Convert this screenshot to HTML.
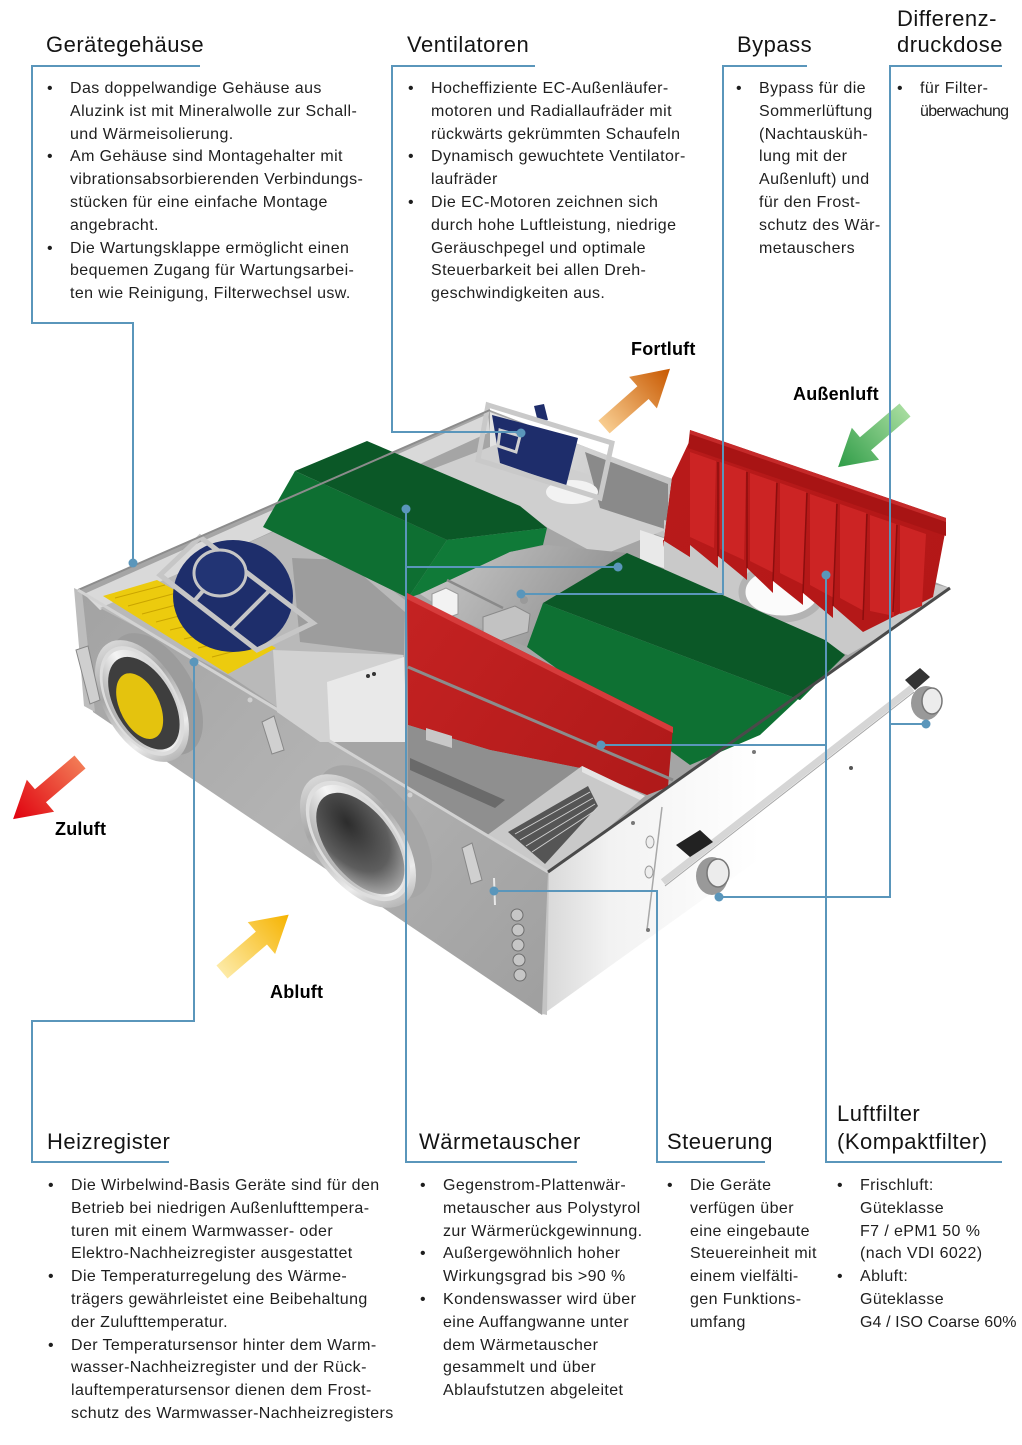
<!DOCTYPE html>
<html><head><meta charset="utf-8">
<style>
html,body{margin:0;padding:0}
body{width:1022px;height:1445px;position:relative;background:#fff;font-family:"Liberation Sans",sans-serif;overflow:hidden}
svg{position:absolute;left:0;top:0}
.h{position:absolute;font-size:22px;line-height:26px;letter-spacing:0.5px;color:#141414;white-space:nowrap}
.b{position:absolute;font-size:16px;line-height:22.8px;letter-spacing:0.4px;color:#1e1e1e;white-space:nowrap}
.b div{position:relative}
.b i{position:absolute;left:-23px;font-style:normal}
.lb{position:absolute;font-weight:bold;font-size:18px;line-height:20px;letter-spacing:0.2px;color:#000;white-space:nowrap}
</style></head>
<body>
<svg width="1022" height="1445" viewBox="0 0 1022 1445">
<defs>
<linearGradient id="gF" x1="80" y1="600" x2="540" y2="1000" gradientUnits="userSpaceOnUse"><stop offset="0" stop-color="#a3a3a3"/><stop offset=".5" stop-color="#b3b3b3"/><stop offset="1" stop-color="#a0a0a0"/></linearGradient>
<linearGradient id="gR" x1="545" y1="0" x2="760" y2="0" gradientUnits="userSpaceOnUse"><stop offset="0" stop-color="#d8d8d8"/><stop offset=".3" stop-color="#f2f2f2"/><stop offset="1" stop-color="#ffffff"/></linearGradient>
<linearGradient id="gW" x1="490" y1="420" x2="690" y2="520" gradientUnits="userSpaceOnUse"><stop offset="0" stop-color="#e4e4e4"/><stop offset="1" stop-color="#bdbdbd"/></linearGradient>
<linearGradient id="gM" x1="450" y1="540" x2="600" y2="640" gradientUnits="userSpaceOnUse"><stop offset="0" stop-color="#c4c4c4"/><stop offset="1" stop-color="#8e8e8e"/></linearGradient>
<linearGradient id="gRing" x1="0" y1="0" x2="1" y2="1"><stop offset="0" stop-color="#f4f4f4"/><stop offset=".4" stop-color="#a6a6a6"/><stop offset=".7" stop-color="#ececec"/><stop offset="1" stop-color="#858585"/></linearGradient>
<linearGradient id="gRing2" x1="1" y1="0" x2="0" y2="1"><stop offset="0" stop-color="#c2c2c2"/><stop offset=".5" stop-color="#f4f4f4"/><stop offset="1" stop-color="#959595"/></linearGradient>
<radialGradient id="gHole" cx=".35" cy=".35" r=".8"><stop offset="0" stop-color="#2c2c2c"/><stop offset=".6" stop-color="#5e5e5e"/><stop offset="1" stop-color="#c4c4c4"/></radialGradient>
<linearGradient id="gRed" x1="408" y1="600" x2="660" y2="780" gradientUnits="userSpaceOnUse"><stop offset="0" stop-color="#c42222"/><stop offset="1" stop-color="#b01a1a"/></linearGradient>
<linearGradient id="gPl" x1="690" y1="440" x2="940" y2="610" gradientUnits="userSpaceOnUse"><stop offset="0" stop-color="#b81a1a"/><stop offset="1" stop-color="#b31717"/></linearGradient>
<linearGradient id="aF" x1="0" y1="0" x2="88" y2="0" gradientUnits="userSpaceOnUse"><stop offset="0" stop-color="#f8cd90"/><stop offset="1" stop-color="#c85800"/></linearGradient>
<linearGradient id="aA" x1="0" y1="0" x2="88" y2="0" gradientUnits="userSpaceOnUse"><stop offset="0" stop-color="#a6dc9e"/><stop offset="1" stop-color="#2e9c47"/></linearGradient>
<linearGradient id="aZ" x1="0" y1="0" x2="88" y2="0" gradientUnits="userSpaceOnUse"><stop offset="0" stop-color="#f27a55"/><stop offset="1" stop-color="#e0000e"/></linearGradient>
<linearGradient id="aB" x1="0" y1="0" x2="88" y2="0" gradientUnits="userSpaceOnUse"><stop offset="0" stop-color="#fdeaa6"/><stop offset="1" stop-color="#f6b300"/></linearGradient>
</defs>

<!-- right face -->
<polygon points="548,872 950,588 950,722 542,1015" fill="url(#gR)"/>
<polygon points="540,870 549,872 547,1015 538,1013" fill="#c4c4c4"/>
<!-- front face -->
<polygon points="80,591 548,872 542,1015 93,712" fill="url(#gF)"/>
<polygon points="74,588 82,592 95,712 84,706" fill="#bdbdbd"/>

<!-- interior base -->
<polygon points="78,590 490,410 950,588 548,872" fill="#a5a5a5"/>
<polygon points="84,594 488,414 490,432 100,610" fill="#d9d9d9"/>
<polygon points="490,412 692,486 692,548 490,472" fill="url(#gW)"/>
<polygon points="430,470 495,445 600,478 665,530 600,556 548,528 520,508" fill="#cfcfcf"/>
<polygon points="585,452 668,484 668,530 600,508" fill="#8a8a8a"/>
<polygon points="640,530 684,545 684,575 640,560" fill="#e9e9e9"/>
<polygon points="540,547 590,560 585,570 540,560" fill="#5a5a5a"/>
<polygon points="664,520 950,588 900,625 848,655 780,630 700,595 664,575" fill="#c9c9c9"/>
<ellipse cx="782" cy="592" rx="40" ry="27" fill="#fbfbfb" stroke="#b3b3b3" stroke-width="7"/>

<!-- Fortluft fan -->
<ellipse cx="572" cy="492" rx="26" ry="12" fill="#f2f2f2"/>
<polygon points="492,415 578,438 566,486 500,463" fill="#1e2d6b"/>
<polygon points="534,406 544,404 548,420 538,422" fill="#1e2d6b"/>
<polygon points="488,405 612,443 600,498 478,460" fill="none" stroke="#c9c9c9" stroke-width="5"/>
<polygon points="500,430 520,436 516,452 498,446" fill="none" stroke="#d0d0d0" stroke-width="3"/>

<!-- pleated filter -->
<polygon points="672,478 690,446 690,545 690,557 663,540 663,547" fill="#9e1212"/>
<polygon points="690,440 946,528 945,533 933,597 863,632 833,606 833,618 803,593 803,605 773,581 773,593 747,568 747,580 718,556 718,568 690,545 690,557 663,540 663,547 672,478" fill="url(#gPl)"/>
<g fill="#cc2424">
<polygon points="690,452 716,461 714,548 690,537"/>
<polygon points="720,462 746,471 744,560 720,549"/>
<polygon points="750,473 776,482 774,573 750,561"/>
<polygon points="780,483 806,492 804,585 780,573"/>
<polygon points="810,494 836,503 834,598 810,585"/>
<polygon points="840,504 866,513 864,611 840,598"/>
<polygon points="870,515 896,524 894,616 870,611"/>
<polygon points="900,525 926,534 922,606 900,614"/>
</g>
<polygon points="690,430 946,518 946,536 688,448" fill="#a81414"/>
<polygon points="690,430 946,518 946,522 690,434" fill="#c52a2a"/>
<g stroke="#8c0e0e" stroke-width="1.5">
<line x1="718" y1="462" x2="718" y2="556"/>
<line x1="747" y1="472" x2="747" y2="568"/>
<line x1="777" y1="483" x2="773" y2="581"/>
<line x1="807" y1="493" x2="803" y2="593"/>
<line x1="837" y1="504" x2="833" y2="606"/>
<line x1="867" y1="514" x2="863" y2="620"/>
<line x1="897" y1="525" x2="893" y2="612"/>
</g>

<!-- left chamber -->
<polygon points="100,608 300,520 405,600 405,740 330,742 230,676" fill="#b9b9b9"/>
<polygon points="292,558 345,560 405,612 404,655 300,642" fill="#9d9d9d"/>
<polygon points="273,650 403,655 407,742 320,742 277,712" fill="#d2d2d2"/>
<polygon points="327,682 404,657 407,742 330,742" fill="#e9e9e9"/>
<circle cx="368" cy="676" r="2" fill="#333"/><circle cx="374" cy="674" r="2" fill="#333"/>
<polygon points="103,596 157,580 276,648 228,674" fill="#eccb0e"/>
<g stroke="#c9a400" stroke-width="1">
<line x1="115" y1="598" x2="165" y2="585"/><line x1="128" y1="606" x2="180" y2="592"/>
<line x1="142" y1="614" x2="195" y2="600"/><line x1="156" y1="622" x2="210" y2="608"/>
<line x1="170" y1="630" x2="225" y2="617"/><line x1="184" y1="639" x2="240" y2="626"/>
<line x1="198" y1="648" x2="254" y2="635"/><line x1="212" y1="657" x2="266" y2="643"/>
</g>
<ellipse cx="233" cy="596" rx="60" ry="56" fill="#1e2e6b"/>
<polygon points="160,575 200,537 313,623 257,650" fill="none" stroke="#c6c6c6" stroke-width="5"/>
<line x1="230" y1="560" x2="195" y2="600" stroke="#c6c6c6" stroke-width="4"/>
<line x1="270" y1="590" x2="232" y2="628" stroke="#c6c6c6" stroke-width="4"/>
<ellipse cx="220" cy="573" rx="26" ry="23" fill="#223474" stroke="#c6c6c6" stroke-width="3"/>

<!-- green left -->
<polygon points="263,527 295,471 447,540 408,598" fill="#0e6f32"/>
<polygon points="295,471 367,441 520,506 547,528 447,540" fill="#0b5827"/>
<polygon points="447,540 547,528 543,545 510,552 420,594 408,598" fill="#107a38"/>

<!-- mechanism -->
<polygon points="510,552 547,545 627,553 543,603 527,647 460,620 420,594" fill="url(#gM)"/>
<polygon points="432,594 446,588 458,594 458,614 444,619 432,612" fill="#f2f2f2" stroke="#999" stroke-width="1"/>
<line x1="447" y1="580" x2="503" y2="608" stroke="#8a8a8a" stroke-width="2.5"/>
<polygon points="483,617 515,606 530,614 528,632 497,642 483,632" fill="#c2c2c2" stroke="#8a8a8a" stroke-width="1"/>
<circle cx="524" cy="600" r="4" fill="#9a9a9a"/>

<!-- green right -->
<polygon points="543,603 627,553 825,640 845,655 800,700" fill="#0b5827"/>
<polygon points="543,603 800,700 845,655 760,735 690,765 527,647" fill="#0e7133"/>

<!-- red slab -->
<polygon points="407,593 673,727 668,787 647,795 580,768 490,750 408,725" fill="url(#gRed)"/>
<polygon points="407,593 673,727 673,733 407,599" fill="#d63b3b"/>
<line x1="408" y1="667" x2="673" y2="780" stroke="#8c8c8c" stroke-width="3"/>

<!-- floor under red slab -->
<polygon points="408,725 490,750 580,768 486,836 408,788" fill="#8f8f8f"/>
<polygon points="410,758 505,800 495,808 410,770" fill="#6a6a6a"/>
<polygon points="426,728 452,736 452,748 426,740" fill="#c8c8c8"/>
<polygon points="486,836 582,766 645,796 600,835 548,872" fill="#c9c9c9"/>
<polygon points="508,832 588,786 598,806 545,864" fill="#555"/>
<g stroke="#cfcfcf" stroke-width="1">
<line x1="515" y1="834" x2="590" y2="792"/><line x1="520" y1="840" x2="593" y2="798"/>
<line x1="526" y1="846" x2="595" y2="804"/><line x1="532" y1="852" x2="596" y2="810"/>
</g>
<polygon points="582,766 645,796 640,800 582,772" fill="#e4e4e4"/>

<!-- rims -->
<line x1="78" y1="590" x2="490" y2="410" stroke="#8c8c8c" stroke-width="2"/>
<line x1="78" y1="590" x2="548" y2="872" stroke="#d2d2d2" stroke-width="3"/>
<line x1="548" y1="872" x2="950" y2="588" stroke="#4a4a4a" stroke-width="3"/>

<!-- Zuluft duct -->
<g transform="matrix(47,28.2,0,54,156,694)"><circle r="1" fill="#9c9c9c"/></g>
<g transform="matrix(47,28.2,0,54,142,701)">
<circle r="1" fill="url(#gRing)"/>
<circle r="0.9" fill="#dcdcdc"/>
<circle r="0.84" fill="url(#gRing2)"/>
<circle cx="0.04" cy="0.02" r="0.76" fill="#3e3e3e"/>
<ellipse cx="-0.05" cy="0.12" rx="0.5" ry="0.55" fill="#e4c30e"/>
</g>
<!-- Abluft duct -->
<g transform="matrix(58,34.8,0,57,374,832)"><circle r="1" fill="#a6a6a6"/></g>
<g transform="matrix(58,34.8,0,57,358,841)">
<circle r="1" fill="url(#gRing)"/>
<circle r="0.9" fill="#dedede"/>
<circle r="0.84" fill="url(#gRing2)"/>
<circle cx="0.04" cy="0.02" r="0.76" fill="url(#gHole)"/>
</g>

<!-- front face details -->
<polygon points="76,650 88,646 100,700 90,704" fill="#cfcfcf" stroke="#888" stroke-width="1"/>
<polygon points="262,722 274,716 284,750 272,754" fill="#d0d0d0" stroke="#888" stroke-width="1"/>
<polygon points="462,848 472,843 482,880 471,884" fill="#d0d0d0" stroke="#888" stroke-width="1"/>
<line x1="494" y1="878" x2="495" y2="905" stroke="#e8e8e8" stroke-width="2"/>
<g fill="#c6c6c6" stroke="#6e6e6e" stroke-width="1">
<circle cx="517" cy="915" r="6"/><circle cx="518" cy="930" r="6"/><circle cx="518" cy="945" r="6"/><circle cx="519" cy="960" r="6"/><circle cx="520" cy="975" r="6"/>
</g>
<circle cx="250" cy="700" r="2.5" fill="#d0d0d0"/><circle cx="410" cy="795" r="2.5" fill="#d0d0d0"/>

<!-- right face details -->
<line x1="663" y1="882" x2="912" y2="688" stroke="#d6d6d6" stroke-width="7"/>
<line x1="665" y1="886" x2="914" y2="692" stroke="#a5a5a5" stroke-width="1"/>
<line x1="662" y1="807" x2="647" y2="930" stroke="#a8a8a8" stroke-width="1.5"/>
<ellipse cx="650" cy="842" rx="4" ry="6" fill="#eee" stroke="#999"/>
<ellipse cx="649" cy="872" rx="4" ry="6" fill="#eee" stroke="#999"/>
<polygon points="676,845 700,830 713,842 690,857" fill="#222"/>
<ellipse cx="712" cy="876" rx="16" ry="19" fill="#999"/>
<ellipse cx="718" cy="873" rx="11" ry="14" fill="#ececec" stroke="#777" stroke-width="1.5"/>
<polygon points="905,680 920,668 930,677 915,690" fill="#333"/>
<ellipse cx="926" cy="703" rx="15" ry="17" fill="#999"/>
<ellipse cx="932" cy="701" rx="10" ry="13" fill="#ececec" stroke="#777" stroke-width="1.5"/>
<circle cx="851" cy="768" r="2" fill="#555"/><circle cx="633" cy="823" r="2" fill="#777"/><circle cx="648" cy="930" r="2" fill="#777"/><circle cx="754" cy="752" r="2" fill="#777"/>

<!-- arrows -->
<path d="M0,-8.5 L52,-8.5 L52,-21 L88,0 L52,21 L52,8.5 L0,8.5 Z" fill="url(#aF)" transform="translate(604,427) rotate(-41.4)"/>
<path d="M0,-8.5 L52,-8.5 L52,-21 L88,0 L52,21 L52,8.5 L0,8.5 Z" fill="url(#aA)" transform="translate(905,410) rotate(139.5)"/>
<path d="M0,-8.5 L52,-8.5 L52,-21 L88,0 L52,21 L52,8.5 L0,8.5 Z" fill="url(#aZ)" transform="translate(80,762) rotate(139.5)"/>
<path d="M0,-8.5 L52,-8.5 L52,-21 L88,0 L52,21 L52,8.5 L0,8.5 Z" fill="url(#aB)" transform="translate(222,972) rotate(-40.7)"/>

<!-- connectors -->
<g fill="none" stroke="#5a96bb" stroke-width="2">
<polyline points="200,66 32,66 32,323 133,323 133,563"/>
<polyline points="535,66 392,66 392,432 521,432"/>
<polyline points="807,66 723,66 723,594 521,594"/>
<polyline points="1002,66 890,66 890,897 719,897"/>
<polyline points="890,724 926,724"/>
<polyline points="194,662 194,1021 32,1021 32,1162 169,1162"/>
<polyline points="406,509 406,1162 577,1162"/>
<polyline points="406,567 618,567"/>
<polyline points="494,891 657,891 657,1162 765,1162"/>
<polyline points="826,575 826,1162 1002,1162"/>
<polyline points="601,745 826,745"/>
</g>
<g fill="#5a96bb">
<circle cx="133" cy="563" r="4.5"/><circle cx="521" cy="433" r="4.5"/><circle cx="521" cy="594" r="4.5"/>
<circle cx="926" cy="724" r="4.5"/><circle cx="719" cy="897" r="4.5"/><circle cx="194" cy="662" r="4.5"/>
<circle cx="406" cy="509" r="4.5"/><circle cx="618" cy="567" r="4.5"/><circle cx="494" cy="891" r="4.5"/>
<circle cx="826" cy="575" r="4.5"/><circle cx="601" cy="745" r="4.5"/>
</g>
</svg>

<!-- headers -->
<div class="h" style="left:46px;top:32px">Gerätegehäuse</div>
<div class="h" style="left:407px;top:32px">Ventilatoren</div>
<div class="h" style="left:737px;top:32px">Bypass</div>
<div class="h" style="left:897px;top:6px">Differenz-<br>druckdose</div>
<div class="h" style="left:47px;top:1129px">Heizregister</div>
<div class="h" style="left:419px;top:1129px">Wärmetauscher</div>
<div class="h" style="left:667px;top:1129px">Steuerung</div>
<div class="h" style="left:837px;top:1100px;line-height:28px">Luftfilter<br>(Kompaktfilter)</div>

<!-- bodies -->
<div class="b" style="left:70px;top:78px">
<div><i>•</i>Das doppelwandige Gehäuse aus</div>
<div>Aluzink ist mit Mineralwolle zur Schall-</div>
<div>und Wärmeisolierung.</div>
<div><i>•</i>Am Gehäuse sind Montagehalter mit</div>
<div>vibrationsabsorbierenden Verbindungs-</div>
<div>stücken für eine einfache Montage</div>
<div>angebracht.</div>
<div><i>•</i>Die Wartungsklappe ermöglicht einen</div>
<div>bequemen Zugang für Wartungsarbei-</div>
<div>ten wie Reinigung, Filterwechsel usw.</div>
</div>

<div class="b" style="left:431px;top:78px">
<div><i>•</i>Hocheffiziente EC-Außenläufer-</div>
<div>motoren und Radiallaufräder mit</div>
<div>rückwärts gekrümmten Schaufeln</div>
<div><i>•</i>Dynamisch gewuchtete Ventilator-</div>
<div>laufräder</div>
<div><i>•</i>Die EC-Motoren zeichnen sich</div>
<div>durch hohe Luftleistung, niedrige</div>
<div>Geräuschpegel und optimale</div>
<div>Steuerbarkeit bei allen Dreh-</div>
<div>geschwindigkeiten aus.</div>
</div>

<div class="b" style="left:759px;top:78px">
<div><i>•</i>Bypass für die</div>
<div>Sommerlüftung</div>
<div>(Nachtausküh-</div>
<div>lung mit der</div>
<div>Außenluft) und</div>
<div>für den Frost-</div>
<div>schutz des Wär-</div>
<div>metauschers</div>
</div>

<div class="b" style="left:920px;top:78px">
<div><i>•</i>für Filter-</div>
<div style="letter-spacing:-0.7px">überwachung</div>
</div>

<div class="b" style="left:71px;top:1175px">
<div><i>•</i>Die Wirbelwind-Basis Geräte sind für den</div>
<div>Betrieb bei niedrigen Außenlufttempera-</div>
<div>turen mit einem Warmwasser- oder</div>
<div>Elektro-Nachheizregister ausgestattet</div>
<div><i>•</i>Die Temperaturregelung des Wärme-</div>
<div>trägers gewährleistet eine Beibehaltung</div>
<div>der Zulufttemperatur.</div>
<div><i>•</i>Der Temperatursensor hinter dem Warm-</div>
<div>wasser-Nachheizregister und der Rück-</div>
<div>lauftemperatursensor dienen dem Frost-</div>
<div>schutz des Warmwasser-Nachheizregisters</div>
</div>

<div class="b" style="left:443px;top:1175px">
<div><i>•</i>Gegenstrom-Plattenwär-</div>
<div>metauscher aus Polystyrol</div>
<div>zur Wärmerückgewinnung.</div>
<div><i>•</i>Außergewöhnlich hoher</div>
<div>Wirkungsgrad bis &gt;90 %</div>
<div><i>•</i>Kondenswasser wird über</div>
<div>eine Auffangwanne unter</div>
<div>dem Wärmetauscher</div>
<div>gesammelt und über</div>
<div>Ablaufstutzen abgeleitet</div>
</div>

<div class="b" style="left:690px;top:1175px">
<div><i>•</i>Die Geräte</div>
<div>verfügen über</div>
<div>eine eingebaute</div>
<div>Steuereinheit mit</div>
<div>einem vielfälti-</div>
<div>gen Funktions-</div>
<div>umfang</div>
</div>

<div class="b" style="left:860px;top:1175px">
<div><i>•</i>Frischluft:</div>
<div>Güteklasse</div>
<div>F7 / ePM1 50 %</div>
<div>(nach VDI 6022)</div>
<div><i>•</i>Abluft:</div>
<div>Güteklasse</div>
<div style="letter-spacing:0.1px">G4 / ISO Coarse 60%</div>
</div>

<!-- flow labels -->
<div class="lb" style="left:631px;top:339px">Fortluft</div>
<div class="lb" style="left:793px;top:384px">Außenluft</div>
<div class="lb" style="left:55px;top:819px">Zuluft</div>
<div class="lb" style="left:270px;top:982px">Abluft</div>
</body></html>
